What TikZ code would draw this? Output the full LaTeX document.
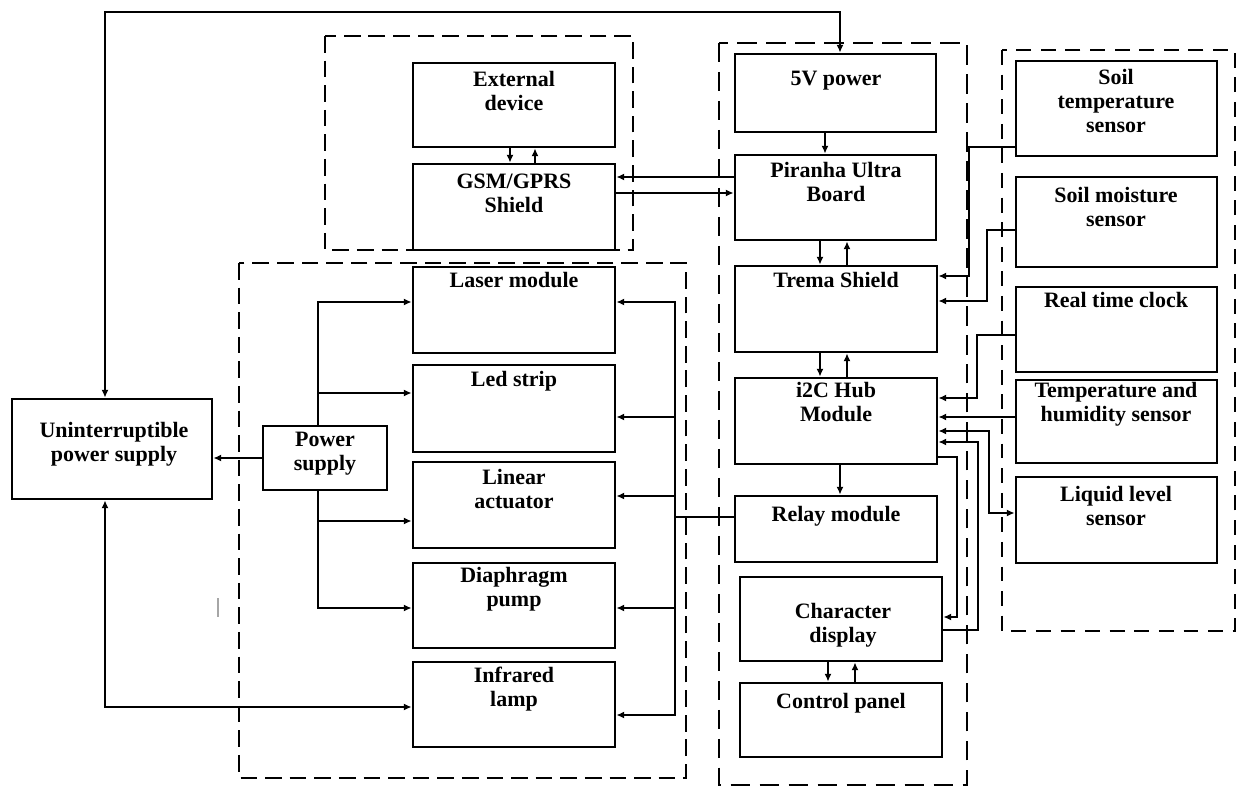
\documentclass[tikz,border=0pt]{standalone}
\usepackage{fontspec}
\setmainfont{Liberation Serif}
\usetikzlibrary{arrows.meta,fit}
\begin{document}
\begin{tikzpicture}[x=0.02cm,y=-0.02cm,
  blk/.style={draw, line width=1.5pt, inner sep=0pt},
  txt/.style={font=\bfseries\fontsize{12.5}{13.6}\selectfont, align=center, inner sep=0pt, anchor=north},
  conn/.style={line width=1.1pt, line cap=rect},
  >={Latex[length=4.5pt,width=4pt]},
  grp/.style={line width=1.1pt, dash pattern=on 9.5pt off 4.5pt},
  grpc/.style={line width=1.6pt, dash pattern=on 11pt off 5.5pt},
  grps/.style={line width=1pt, dash pattern=on 8.5pt off 5.5pt}]
\useasboundingbox (0,0) rectangle (1237,787);
% groups
\draw[grp] (325,36) rectangle (633,250);
\draw[grp] (239,263) rectangle (686,778);
\draw[grpc] (719,43) rectangle (967,785);
\draw[grps] (1002,50) rectangle (1235,631);
% boxes
\node[blk, fit={(413,63) (615,147)}] (ext) {};
\node[blk, fit={(413,164) (615,250)}] (gsm) {};
\node[blk, fit={(413,267) (615,353)}] (laser) {};
\node[blk, fit={(413,365) (615,452)}] (led) {};
\node[blk, fit={(413,462) (615,548)}] (lin) {};
\node[blk, fit={(413,563) (615,648)}] (pump) {};
\node[blk, fit={(413,662) (615,747)}] (ir) {};
\node[blk, fit={(12,399) (212,499)}] (ups) {};
\node[blk, fit={(263,426) (387,490)}] (ps) {};
\node[blk, fit={(735,54) (936,132)}] (pw) {};
\node[blk, fit={(735,155) (936,240)}] (pir) {};
\node[blk, fit={(735,266) (937,352)}] (trema) {};
\node[blk, fit={(735,378) (937,464)}] (hub) {};
\node[blk, fit={(735,496) (937,562)}] (relay) {};
\node[blk, fit={(740,577) (942,661)}] (chr) {};
\node[blk, fit={(740,683) (942,757)}] (ctrl) {};
\node[blk, fit={(1016,61) (1217,156)}] (stemp) {};
\node[blk, fit={(1016,177) (1217,267)}] (smoist) {};
\node[blk, fit={(1016,287) (1217,372)}] (rtc) {};
\node[blk, fit={(1016,380) (1217,463)}] (th) {};
\node[blk, fit={(1016,477) (1217,563)}] (liq) {};
% texts
\node[txt] (extT) at (514,71) {External\\device};
\node[txt] (gsmT) at (514,174) {GSM/GPRS\\Shield};
\node[txt] (laserT) at (514,272) {Laser module};
\node[txt] (ledT) at (514,371) {Led strip};
\node[txt] (linT) at (514,469) {Linear\\actuator};
\node[txt] (pumpT) at (514,567) {Diaphragm\\pump};
\node[txt] (irT) at (514,667) {Infrared\\lamp};
\node[txt] (upsT) at (114,422) {Uninterruptible\\power supply};
\node[txt] (psT) at (325,432) {Power\\supply};
\node[txt] (pwT) at (836,71) {5V power};
\node[txt] (pirT) at (836,162) {Piranha Ultra\\Board};
\node[txt] (tremaT) at (836,272) {Trema Shield};
\node[txt] (hubT) at (836,382) {i2C Hub\\Module};
\node[txt] (relayT) at (836,506) {Relay module};
\node[txt] (chrT) at (843,603) {Character\\display};
\node[txt] (ctrlT) at (841,693) {Control panel};
\node[txt] (stempT) at (1116,69) {Soil\\temperature\\sensor};
\node[txt] (smoistT) at (1116,187) {Soil moisture\\sensor};
\node[txt] (rtcT) at (1116,292) {Real time clock};
\node[txt] (thT) at (1116,382) {Temperature and\\humidity sensor};
\node[txt] (liqT) at (1116,486) {Liquid level\\sensor};
% stray mark
\draw[gray!70, line width=0.6pt] (218,598) -- (218,617);
% top and bottom loops
\coordinate (tl) at (105,12); \coordinate (tr) at (840,12);
\draw[conn,<->] (ups.north -| tl) -- (tl) -- (tr) -- (pw.north -| tr);
\coordinate (bl) at (105,707);
\draw[conn,<->] (ups.south -| bl) -- (bl) -- (ir.west |- bl);
\draw[conn,->] (ps.west) -- (ps.west -| ups.east);
% power bus
\coordinate (pa) at (318,302); \coordinate (pb) at (318,393);
\coordinate (pc) at (318,521); \coordinate (pd) at (318,608);
\draw[conn,->] (ps.north -| pa) -- (pa) -- (pa -| laser.west);
\draw[conn,->] (pb) -- (pb -| led.west);
\draw[conn,->] (ps.south -| pd) -- (pd) -- (pd -| pump.west);
\draw[conn,->] (pc) -- (pc -| lin.west);
% relay bus
\coordinate (ra) at (675,302); \coordinate (rb) at (675,417);
\coordinate (rc) at (675,496); \coordinate (rd) at (675,608);
\coordinate (re) at (675,715); \coordinate (rr) at (675,517);
\draw[conn] (relay.west |- rr) -- (rr);
\draw[conn,->] (rr) -- (ra) -- (ra -| laser.east);
\draw[conn,->] (rr) -- (re) -- (re -| ir.east);
\draw[conn,->] (rb) -- (rb -| led.east);
\draw[conn,->] (rc) -- (rc -| lin.east);
\draw[conn,->] (rd) -- (rd -| pump.east);
% ext <-> gsm
\coordinate (ea) at (510,155); \coordinate (eb) at (535,155);
\draw[conn,->] (ext.south -| ea) -- (gsm.north -| ea);
\draw[conn,->] (gsm.north -| eb) -- (ext.south -| eb);
% gsm <-> piranha
\coordinate (ga) at (700,177); \coordinate (gb) at (700,193);
\draw[conn,->] (pir.west |- ga) -- (gsm.east |- ga);
\draw[conn,->] (gsm.east |- gb) -- (pir.west |- gb);
% center column
\coordinate (c1) at (825,0); \coordinate (c2) at (820,0); \coordinate (c3) at (847,0);
\coordinate (c4) at (840,0); \coordinate (c5) at (828,0); \coordinate (c6) at (855,0);
\draw[conn,->] (pw.south -| c1) -- (pir.north -| c1);
\draw[conn,->] (pir.south -| c2) -- (trema.north -| c2);
\draw[conn,->] (trema.north -| c3) -- (pir.south -| c3);
\draw[conn,->] (trema.south -| c2) -- (hub.north -| c2);
\draw[conn,->] (hub.north -| c3) -- (trema.south -| c3);
\draw[conn,->] (hub.south -| c4) -- (relay.north -| c4);
\draw[conn,->] (chr.south -| c5) -- (ctrl.north -| c5);
\draw[conn,->] (ctrl.north -| c6) -- (chr.south -| c6);
% sensors
\coordinate (s1a) at (969,147); \coordinate (s1b) at (969,276);
\draw[conn,->] (stemp.west |- s1a) -- (s1a) -- (s1b) -- (trema.east |- s1b);
\coordinate (s2a) at (987,230); \coordinate (s2b) at (987,301);
\draw[conn,->] (smoist.west |- s2a) -- (s2a) -- (s2b) -- (trema.east |- s2b);
\coordinate (s3a) at (977,335); \coordinate (s3b) at (977,398);
\draw[conn,->] (rtc.west |- s3a) -- (s3a) -- (s3b) -- (hub.east |- s3b);
\coordinate (s4) at (1000,417);
\draw[conn,->] (th.west |- s4) -- (hub.east |- s4);
\coordinate (s5a) at (989,431); \coordinate (s5b) at (989,513);
\draw[conn,<->] (hub.east |- s5a) -- (s5a) -- (s5b) -- (liq.west |- s5b);
\coordinate (s6a) at (957,457); \coordinate (s6b) at (957,617);
\draw[conn,->] (hub.east |- s6a) -- (s6a) -- (s6b) -- (chr.east |- s6b);
\coordinate (s7a) at (978,630); \coordinate (s7b) at (978,442);
\draw[conn,->] (chr.east |- s7a) -- (s7a) -- (s7b) -- (hub.east |- s7b);
\end{tikzpicture}
\end{document}
